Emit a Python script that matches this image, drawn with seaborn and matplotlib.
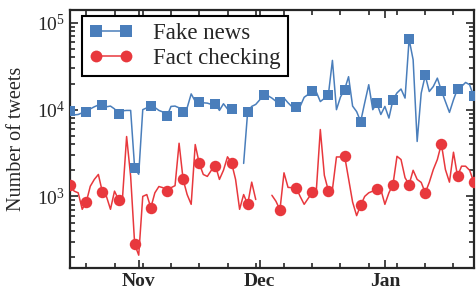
import seaborn as sb
import matplotlib.pyplot as plt
import matplotlib.dates as mdates
from matplotlib.ticker import LogLocator, LogFormatterMathtext, NullFormatter
from matplotlib.lines import Line2D
import pandas as pd
import numpy as np

nan = np.nan
days = pd.date_range("2016-10-15", periods=101, freq="D")

fake_news = [9600, 8700, 8800, 9200, 9500, 10200, 10800, 11300, 11200, 10800,
             11000, 10200, 9000, 9700, 9800, 9800, 2100, 1800, 10000, 10500,
             11100, 10600, 9800, 9400, 8400, 10900, 11000, 10500, 9500, 10500,
             15200, 12500, 12400, 12000, 11900, 11500, 11700, 9800, 11700, 10200,
             10200, nan, nan, 2400, 9500, 10900, 11500, 13000, 14900, 14500,
             13600, 12500, 12100, 13600, 12000, 10800, 10700, 10900, 13900, 15000,
             16200, 16000, 12400, 13500, 14900, 37000, 10000, 14000, 17000, 24000,
             11000, 9500, 7300, 12000, 19400, 10000, 11900, 8800, 10900, 8000,
             13000, 15600, 17300, 13600, 65000, 37600, 4300, 15500, 24800, 16200,
             18500, 23100, 16600, 12400, 9300, 13000, 17400, 18500, 20600, 19400,
             14200]

fact_checking = [1370, 1150, 1100, 710, 860, 1310, 1570, 1790, 1120, 1000,
                 710, 1150, 920, 990, 4900, 1700, 280, 210, 1000, 1050,
                 740, 1100, 1300, 1260, 1150, 1260, 1330, 4100, 1570, 1050,
                 810, 3960, 2400, 1790, 1700, 2000, 2270, 1570, 2000, 2860,
                 2440, 1570, 710, 1050, 810, 1460, 920, nan, nan, nan,
                 1030, 880, 700, 1870, 1270, 1260, 1260, 1000, 810, 950,
                 1110, 1150, 5900, 1750, 1160, 1200, 2850, 2850, 2960, 1600,
                 860, 600, 790, 1000, 1100, 1150, 1230, 1200, 810, 1100,
                 1370, 2900, 2660, 1640, 1370, 2000, 1570, 1450, 1100, 1450,
                 2040, 2660, 4030, 2040, 1460, 3230, 1710, 2230, 2230, 2000,
                 1480]

labels = ["Fake news", "Fact checking"]
blue = "#4a7ebb"
red = "#e8383d"

df = pd.DataFrame({"date": days, "fake": fake_news, "fact": fact_checking})
df["day"] = np.arange(len(df))
# segment ids so that missing days break the line
df["seg_fake"] = df["fake"].isna().cumsum()
df["seg_fact"] = df["fact"].isna().cumsum()
marks = df[df["day"] % 4 == 0]

sb.set_style("ticks")
plt.rcParams["font.family"] = ["Liberation Serif", "DejaVu Serif"]
plt.rcParams["mathtext.fontset"] = "stix"

fig = plt.figure(figsize=(4.77, 3.03), dpi=100)
ax = fig.add_axes([0.147, 0.116, 0.846, 0.851])

sb.lineplot(data=df.dropna(subset=["fake"]), x="date", y="fake", units="seg_fake",
            estimator=None, ax=ax, color=blue, lw=1.1)
sb.lineplot(data=df.dropna(subset=["fact"]), x="date", y="fact", units="seg_fact",
            estimator=None, ax=ax, color=red, lw=1.1)
sb.scatterplot(data=marks, x="date", y="fake", ax=ax, color=blue, marker="s",
               s=62, linewidth=0, zorder=3)
sb.scatterplot(data=marks, x="date", y="fact", ax=ax, color=red, marker="o",
               s=68, linewidth=0, zorder=3)

ax.set_yscale("log")
ax.set_ylim(150, 141000)
ax.set_xlim(days[0], days[-1])
ax.yaxis.set_major_locator(LogLocator(base=10, numticks=10))
ax.yaxis.set_major_formatter(LogFormatterMathtext())
ax.yaxis.set_minor_locator(LogLocator(base=10, subs=np.arange(2, 10), numticks=20))
ax.yaxis.set_minor_formatter(NullFormatter())

ax.xaxis.set_major_locator(mdates.MonthLocator())
ax.xaxis.set_major_formatter(mdates.DateFormatter("%b"))
ax.xaxis.set_minor_locator(mdates.WeekdayLocator(byweekday=mdates.WE))

ax.tick_params(which="both", direction="in", top=True, right=True, width=1.2)
ax.tick_params(which="major", length=6, labelsize=14)
ax.tick_params(which="minor", length=3.5)
for lab in ax.get_xticklabels():
    lab.set_fontweight("bold")
for s in ax.spines.values():
    s.set_linewidth(1.6)

ax.set_xlabel("")
ax.set_ylabel("Number of tweets", fontsize=14.5, labelpad=8)

handles = [Line2D([], [], color=blue, lw=1.1, marker="s", markersize=8, markeredgewidth=0),
           Line2D([], [], color=red, lw=1.1, marker="o", markersize=8.5, markeredgewidth=0)]
leg = ax.legend(handles, labels, loc="upper left", fontsize=16.5, numpoints=2,
                handlelength=1.9, fancybox=False, framealpha=1, edgecolor="black",
                borderpad=0.3, labelspacing=0.2, handletextpad=0.9,
                borderaxespad=0, bbox_to_anchor=(0.03, 0.977))
leg.get_frame().set_linewidth(1.5)

fig.savefig("out.png", dpi=100)
